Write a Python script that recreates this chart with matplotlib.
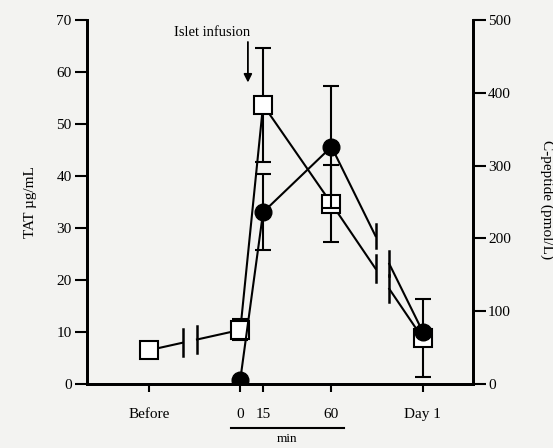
import matplotlib as mpl
from matplotlib import pyplot as plt
from matplotlib import transforms
import numpy as np

mpl.rcParams['font.family'] = ['Liberation Serif', 'DejaVu Serif']

# x positions (minutes); "Before" and "Day 1" sit on a broken axis
x_pos = [-60, 0, 15, 60, 120]
x_labels = ["Before", "0", "15", "60", "Day 1"]

# TAT (open squares, left axis, ug/mL)
tat_x = [-60, 0, 15, 60, 120]
tat = [6.5, 10.4, 53.7, 34.7, 8.8]
tat_err = [0, 2.0, 11.0, 7.4, 7.5]

# C-peptide (filled circles, right axis, pmol/L)
cpep_x = [0, 15, 60, 120]
cpep = [6, 236, 326, 72]
cpep_err = [0, 52, 84, 0]

breaks = [(-38, -28.5), (89, 98)]

BG = '#f3f3f1'
fig = plt.figure(figsize=(5.53, 4.48), dpi=100, facecolor=BG)
ax = fig.add_axes([0.157, 0.143, 0.698, 0.812])
ax.set_facecolor(BG)
ax2 = ax.twinx()


def broken_line(a, xs, ys, half):
    # draw the polyline, leaving gaps with little bars where the axis breaks
    for i in range(len(xs) - 1):
        x0, x1 = xs[i], xs[i + 1]
        y0, y1 = ys[i], ys[i + 1]
        cut = None
        for b0, b1 in breaks:
            if x0 < b0 and b1 < x1:
                cut = (b0, b1)
        if cut is None:
            a.plot([x0, x1], [y0, y1], color='black', lw=1.5, zorder=2)
            continue
        yb0 = np.interp(cut[0], [x0, x1], [y0, y1])
        yb1 = np.interp(cut[1], [x0, x1], [y0, y1])
        a.plot([x0, cut[0]], [y0, yb0], color='black', lw=1.5, zorder=2)
        a.plot([cut[1], x1], [yb1, y1], color='black', lw=1.5, zorder=2)
        a.plot([cut[0], cut[0]], [yb0 - half, yb0 + half], color='black', lw=1.8, zorder=2)
        a.plot([cut[1], cut[1]], [yb1 - half, yb1 + half], color='black', lw=1.8, zorder=2)


broken_line(ax, tat_x, tat, 2.6)
broken_line(ax2, cpep_x, cpep, 17)

ax.errorbar(tat_x, tat, yerr=tat_err, fmt='none', ecolor='black', elinewidth=1.5,
            capsize=6, capthick=1.5, zorder=3)
ax.plot(tat_x, tat, 's', ms=13, mfc='white', mec='black', mew=1.5, zorder=4)

ax2.errorbar(cpep_x, cpep, yerr=cpep_err, fmt='none', ecolor='black', elinewidth=1.5,
             capsize=6, capthick=1.5, zorder=3)
ax2.plot(cpep_x, cpep, 'o', ms=12, mfc='black', mec='black', zorder=4)

ax.set_xlim(-101, 153)
ax.set_ylim(0, 70)
ax2.set_ylim(0, 500)

ax.set_xticks(x_pos)
ax.set_xticklabels(x_labels)
ax.set_yticks(range(0, 71, 10))
ax2.set_yticks(range(0, 501, 100))

ax.spines['top'].set_visible(False)
ax2.spines['top'].set_visible(False)
for a in (ax, ax2):
    for s in a.spines.values():
        s.set_linewidth(2)

ax.tick_params(axis='y', length=9, width=1.5, labelsize=11, pad=2)
ax2.tick_params(axis='y', length=9, width=1.5, labelsize=11, pad=2)
ax.tick_params(axis='x', length=6, width=1.5, labelsize=11, pad=11)

ax.set_ylabel("TAT µg/mL", fontsize=11, labelpad=14)
fig.text(0.988, 0.555, "C-peptide (pmol/L)", rotation=-90, fontsize=11,
         ha='center', va='center')

ax.text(6.5, 67.7, "Islet infusion", ha='right', va='center', fontsize=10.5)
ax.annotate("", xy=(5, 58), xytext=(5, 65.8),
            arrowprops=dict(arrowstyle='-|>', color='black', lw=1.3,
                            shrinkA=0, shrinkB=0, mutation_scale=12))

trans = transforms.blended_transform_factory(ax.transData, ax.transAxes)
ax.plot([-6, 68], [-0.121, -0.121], color='black', lw=1.5, transform=trans,
        clip_on=False)
ax.text(31, -0.152, "min", transform=trans, ha='center', va='center', fontsize=9.5)

plt.savefig('out.png', dpi=100, facecolor=BG)
